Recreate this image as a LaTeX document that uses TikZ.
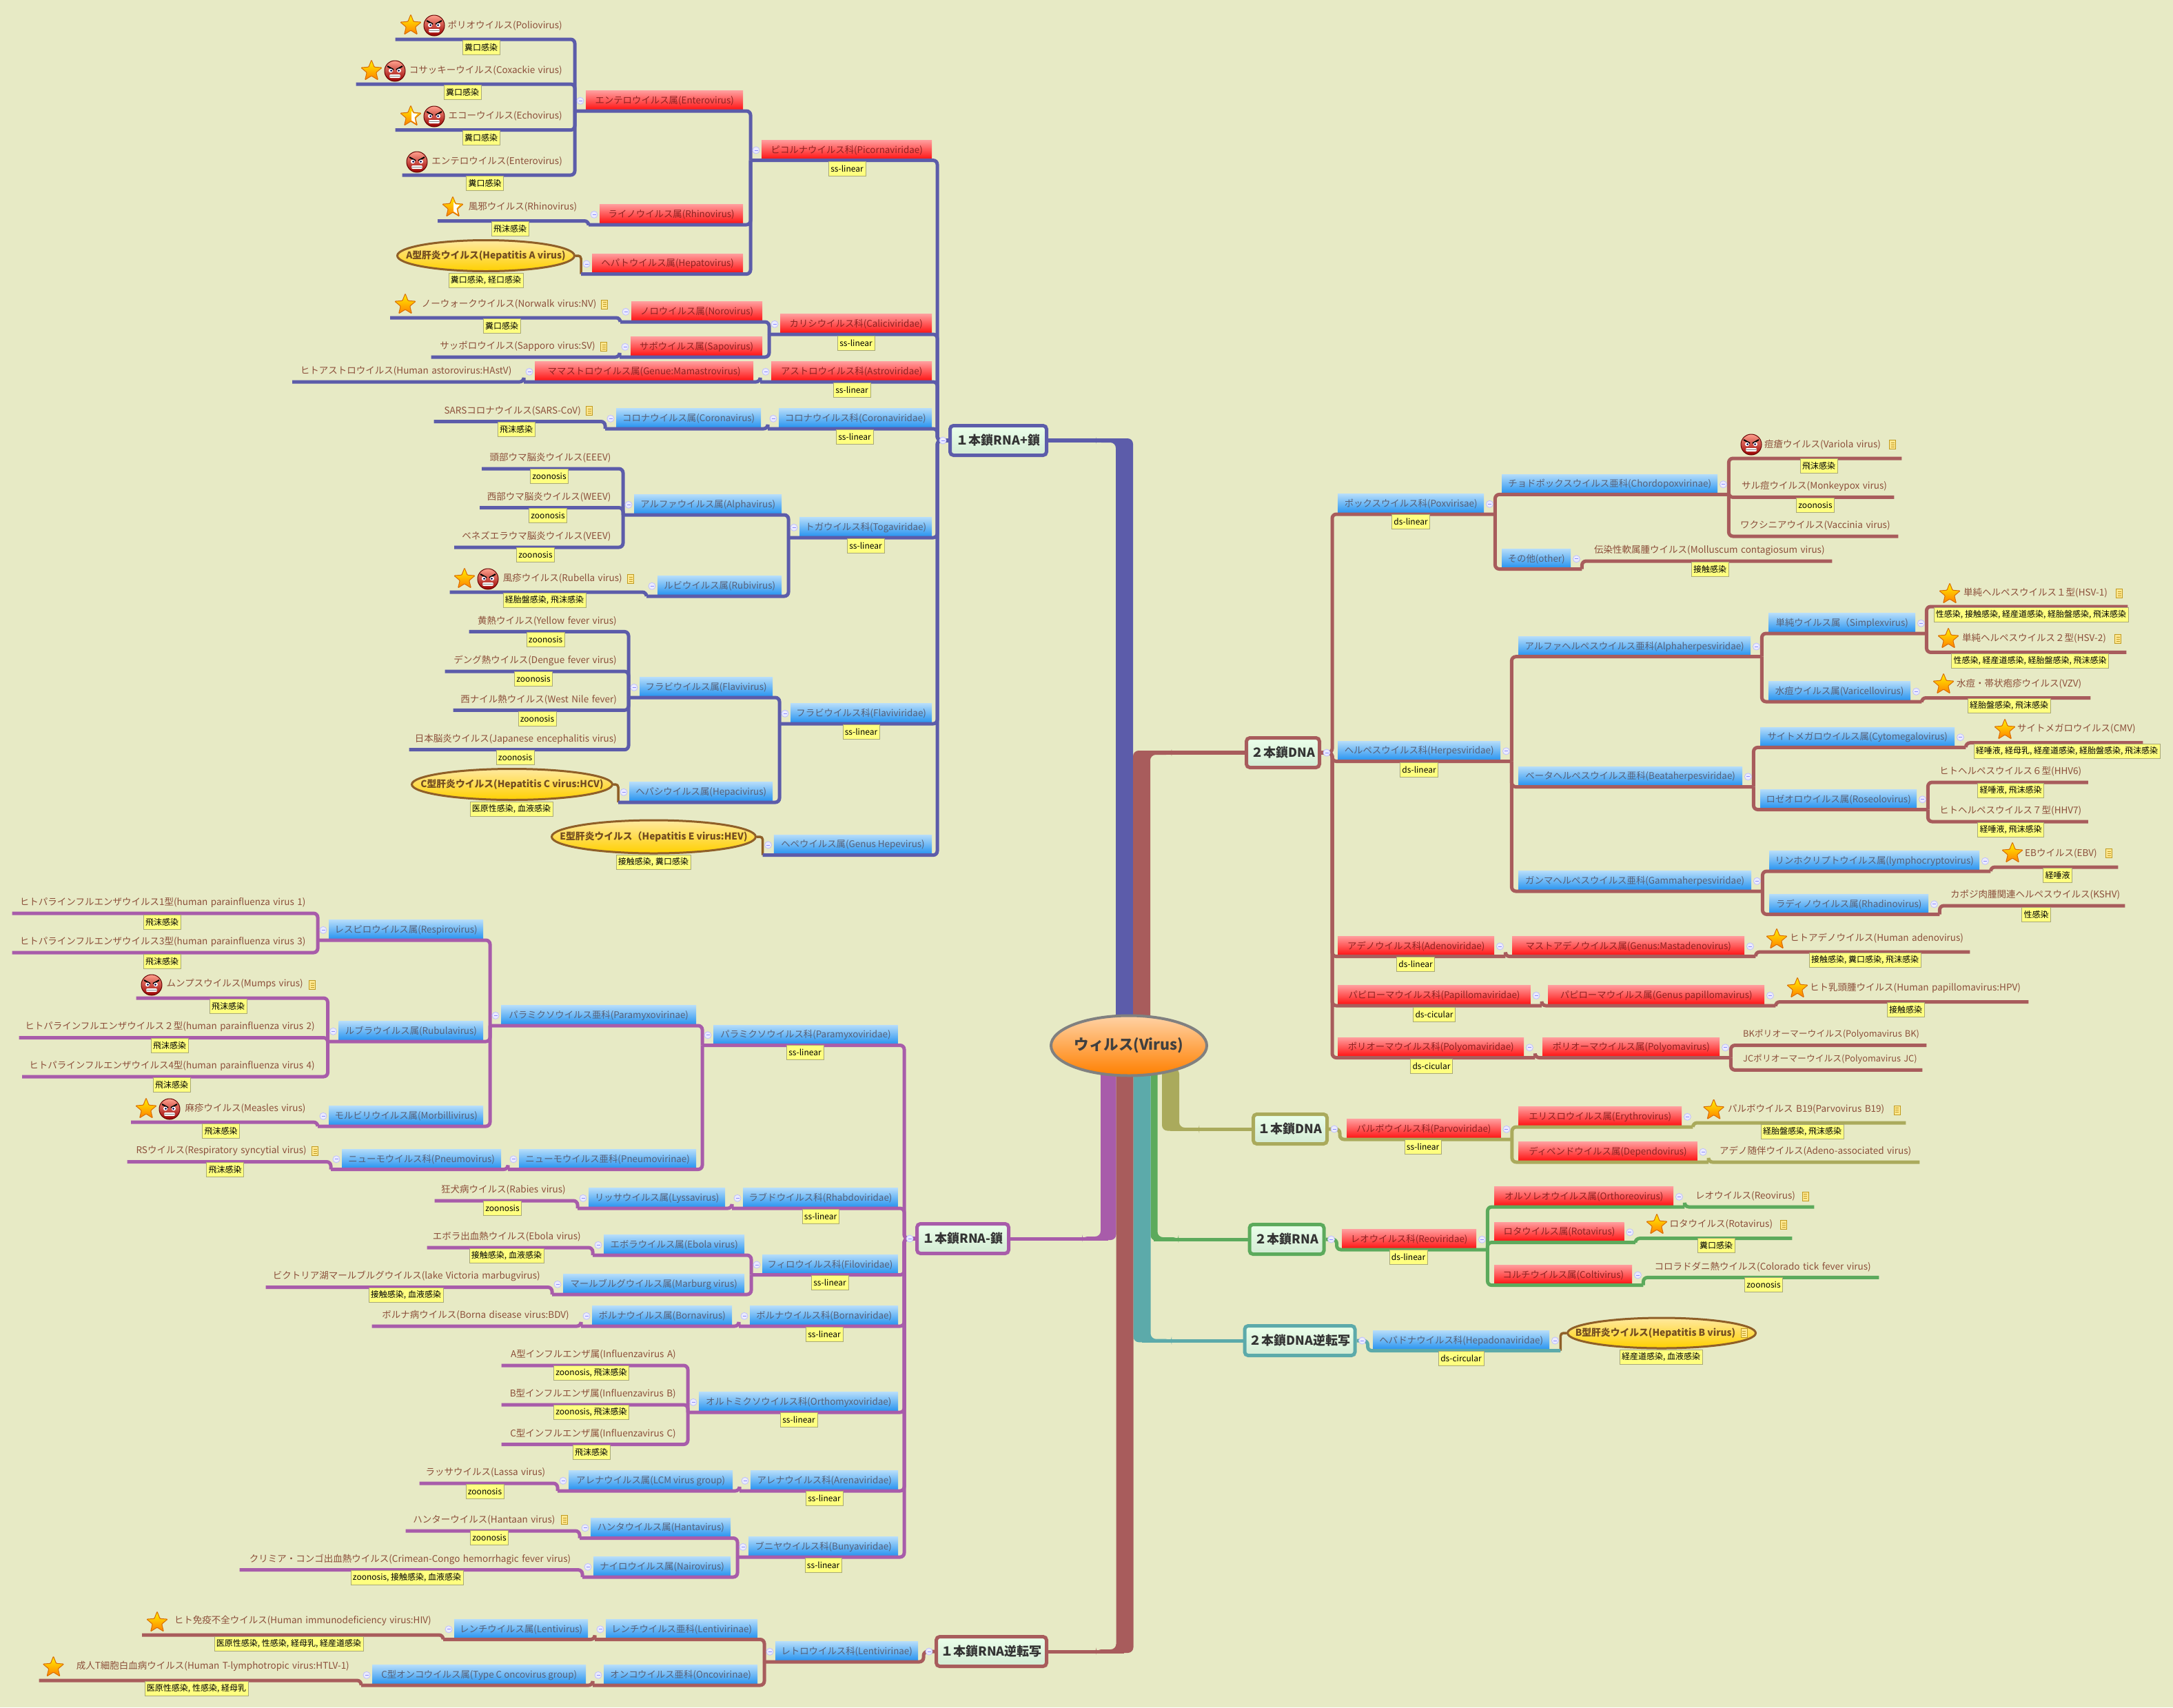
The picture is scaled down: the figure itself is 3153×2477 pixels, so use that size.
\documentclass[tikz,border=0pt]{standalone}
\usepackage{fontspec}
\setmainfont{Noto Sans CJK JP}
\usetikzlibrary{shapes.geometric}

\definecolor{mapback}{HTML}{E7EAC5}
\definecolor{linkblue}{HTML}{5C5CAA}
\definecolor{linkbrown}{HTML}{A85C5C}
\definecolor{linkpurple}{HTML}{A85CAA}
\definecolor{linkgreen}{HTML}{5CAA5C}
\definecolor{linkteal}{HTML}{5CAAAA}
\definecolor{linkolive}{HTML}{AAAA5C}
\definecolor{leaftext}{HTML}{8C4F3A}
\definecolor{redtop}{HTML}{FF9C9C}
\definecolor{redlow}{HTML}{FF0C0C}
\definecolor{redtext}{HTML}{8E2222}
\definecolor{bluetop}{HTML}{B4DCFA}
\definecolor{bluelow}{HTML}{2090F0}
\definecolor{bluetext}{HTML}{566078}
\definecolor{ovaledge}{HTML}{8F5F28}
\definecolor{ovaltop}{HTML}{FFE9A0}
\definecolor{ovallow}{HTML}{FFD000}
\definecolor{notefill}{HTML}{FFFF80}
\definecolor{noteedge}{HTML}{A8A878}
\definecolor{docedge}{HTML}{C09A20}
\definecolor{docfill}{HTML}{FFE890}

\tikzset{
  leaf/.style={anchor=south east,align=right,inner sep=0pt,minimum height=31pt,text=leaftext,font=\fontsize{13.5pt}{15pt}\selectfont},
  iconleaf/.style={leaf,minimum height=40pt},
  leafR/.style={leaf,anchor=south west,align=left},
  iconleafR/.style={leafR,minimum height=40pt},
  box/.style={anchor=south west,inner sep=0pt,minimum height=29pt,font=\fontsize{13.4pt}{15pt}\selectfont},
  redbox/.style={box,top color=redtop,bottom color=redlow,text=redtext},
  bluebox/.style={box,top color=bluetop,bottom color=bluelow,text=bluetext},
  mainbox/.style={rectangle,rounded corners=5pt,line width=5pt,inner sep=0pt,minimum height=43pt,top color=white!92!green,bottom color=green!10!white!92!black,text=black!80,font=\fontsize{18pt}{20pt}\selectfont\bfseries},
  oval/.style={ellipse,draw=ovaledge,line width=3pt,inner sep=0pt,top color=ovaltop,bottom color=ovallow,text=ovaledge!80!black,font=\fontsize{13.8pt}{15pt}\selectfont\bfseries},
  note/.style={draw=noteedge,fill=notefill,text=black,inner xsep=3pt,inner ysep=0pt,minimum height=21pt,font=\fontsize{12pt}{14pt}\selectfont},
  lefttree/.style={to path={([xshift=-16pt]\tikztostart.south west) -| ([xshift=-16pt]\tikztotarget.south west)}},
  leftleaf/.style={to path={(\tikztostart.south west) -| ([xshift=-16pt]\tikztotarget.south west)}},
  leftroot/.style={to path={([xshift=-16pt]\tikztostart.south west) -| ([xshift=-16pt]\tikztotarget.west) -- (\tikztotarget.west)}},
  leftoval/.style={to path={(\tikztostart.east) -| ([xshift=-16pt]\tikztotarget.south west)}},
  righttree/.style={to path={([xshift=16pt]\tikztostart.south east) -| ([xshift=16pt]\tikztotarget.south east)}},
  rightleaf/.style={to path={(\tikztostart.south east) -| ([xshift=16pt]\tikztotarget.south east)}},
  rightroot/.style={to path={([xshift=16pt]\tikztostart.south east) -| ([xshift=16pt]\tikztotarget.east) -- (\tikztotarget.east)}},
  rightoval/.style={to path={(\tikztostart.west) -| ([xshift=16pt]\tikztotarget.south east)}},
  bluelink/.style={draw=linkblue,line width=5pt,rounded corners=6pt},
  brownlink/.style={draw=linkbrown,line width=5pt,rounded corners=6pt},
  purplelink/.style={draw=linkpurple,line width=5pt,rounded corners=6pt},
  greenlink/.style={draw=linkgreen,line width=5pt,rounded corners=6pt},
  teallink/.style={draw=linkteal,line width=5pt,rounded corners=6pt},
  olivelink/.style={draw=linkolive,line width=5pt,rounded corners=6pt},
  ovallink/.style={draw=ovaledge,line width=3.5pt,rounded corners=4pt},
  staricon/.pic={
    \draw[draw=orange!85!black,line width=1pt,rounded corners=1pt,top color=yellow!90!orange,bottom color=orange]
      (0,-16) -- (4.1,-5.7) -- (15.2,-4.9) -- (6.7,2.2) -- (9.4,12.9) -- (0,7) -- (-9.4,12.9) -- (-6.7,2.2) -- (-15.2,-4.9) -- (-4.1,-5.7) -- cycle;
  },
  halfstaricon/.pic={
    \pic {staricon};
    \fill[white] (1,-8) -- (4,-4.5) -- (10,-4) -- (5.5,1.5) -- (7,9.5) -- (1,5.5) -- cycle;
  },
  oniicon/.pic={
    \draw[draw=red!40!black,line width=1pt,top color=red!35!white!85!orange,bottom color=red!60!black] (0,0) circle (15pt);
    \draw[black,line width=2pt] (-11,-7) -- (-2,-2);
    \draw[black,line width=2pt] (11,-7) -- (2,-2);
    \fill[white] (-6,-0.5) circle (3pt);
    \fill[white] (6,-0.5) circle (3pt);
    \fill[black!70!blue] (-5.5,-0.5) circle (1.5pt);
    \fill[black!70!blue] (5.5,-0.5) circle (1.5pt);
    \fill[white,rounded corners=2pt] (-8,5) rectangle (8,10);
    \draw[gray,line width=0.5pt] (-8,7.5) -- (8,7.5);
  },
  docicon/.pic={
    \draw[draw=docedge,line width=1pt,fill=docfill] (-4.5,-6.5) rectangle (4.5,6.5);
    \draw[docedge,line width=0.8pt] (-2.5,-3) -- (2.5,-3);
    \draw[docedge,line width=0.8pt] (-2.5,0) -- (2.5,0);
    \draw[docedge,line width=0.8pt] (-2.5,3) -- (2.5,3);
  },
  foldmark/.pic={
    \draw[draw=blue!25!white,line width=0.8pt,fill=blue!8!white] (0,0) circle (5pt);
    \draw[blue!45!white,line width=0.8pt] (-2.5,0) -- (2.5,0);
  }
}

\begin{document}
\begin{tikzpicture}[x=1pt,y=-1pt]
\useasboundingbox (0,0) rectangle (3153,2477);
\fill[mapback] (0,0) rectangle (3153,2477);

\fill[linkblue,rounded corners=8pt] (1619,1500) -- (1619,642) -- (1590,642) -- (1590,636) -- (1644,636) -- (1644,1500) -- cycle;
\fill[linkbrown,rounded corners=8pt] (1669,1500) -- (1669,1095) -- (1700,1095) -- (1700,1089) -- (1644,1089) -- (1644,1500) -- cycle;
\fill[linkpurple,rounded corners=8pt] (1597,1540) -- (1597,1794) -- (1570,1794) -- (1570,1799) -- (1619.5,1799) -- (1619.5,1540) -- cycle;
\fill[linkbrown,rounded corners=8pt] (1619.5,1540) -- (1619.5,2393) -- (1590,2393) -- (1590,2398) -- (1644.5,2398) -- (1644.5,1540) -- cycle;
\fill[linkgreen,rounded corners=8pt] (1679.5,1540) -- (1679.5,1795) -- (1710,1795) -- (1710,1800) -- (1669.5,1800) -- (1669.5,1540) -- cycle;
\fill[linkteal,rounded corners=8pt] (1669.5,1540) -- (1669.5,1942.7) -- (1700,1942.7) -- (1700,1947.3) -- (1644.5,1947.3) -- (1644.5,1540) -- cycle;
\fill[linkolive,rounded corners=8pt] (1711,1550) -- (1711,1636) -- (1740,1636) -- (1740,1640.5) -- (1686,1640.5) -- (1686,1550) -- cycle;

\node[ellipse,draw=black!50,line width=4pt,inner sep=0pt,minimum width=226pt,minimum height=87pt,top color=orange!35!white,bottom color=orange,text=black!75,font=\fontsize{21.5pt}{24pt}\selectfont\bfseries] (virus) at (1638,1517) {\makebox[0pt]{ウィルス(Virus)}};

\node[mainbox,draw=linkblue,minimum width=140pt] (rnaplus) at (1448.5,639) {１本鎖RNA+鎖};
\node[mainbox,draw=linkpurple,minimum width=133pt] (rnaminus) at (1397,1797) {１本鎖RNA-鎖};
\node[mainbox,draw=linkbrown,minimum width=160pt] (rnaretro) at (1438.5,2396) {１本鎖RNA逆転写};
\node[mainbox,draw=linkbrown,minimum width=106pt] (dnadouble) at (1861.5,1092) {２本鎖DNA};
\node[mainbox,draw=linkolive,minimum width=107pt] (dnasingle) at (1872,1638) {１本鎖DNA};
\node[mainbox,draw=linkgreen,minimum width=108pt] (rnadouble) at (1867,1798) {２本鎖RNA};
\node[mainbox,draw=linkteal,minimum width=160pt] (dnaretro) at (1886,1945) {２本鎖DNA逆転写};

\coordinate (bluebend) at (1631,639);
\coordinate (purplebend) at (1608,1797);
\coordinate (retrobend) at (1631,2396);
\coordinate (dnabend) at (1656,1092);
\coordinate (olivebend) at (1698,1638);
\coordinate (greenbend) at (1674,1798);
\coordinate (tealbend) at (1657,1945);
\draw[linkblue,line width=6pt] (rnaplus.east) -- (bluebend);
\draw[linkpurple,line width=5pt] (rnaminus.east) -- (purplebend);
\draw[linkbrown,line width=5pt] (rnaretro.east) -- (retrobend);
\draw[linkbrown,line width=6pt] (dnadouble.west) -- (dnabend);
\draw[linkolive,line width=5pt] (dnasingle.west) -- (olivebend);
\draw[linkgreen,line width=5pt] (rnadouble.west) -- (greenbend);
\draw[linkteal,line width=5pt] (dnaretro.west) -- (tealbend);

\node[redbox,minimum width=247pt] (picorna) at (1105,232.6) {ピコルナウイルス科(Picornaviridae)};
\node[redbox,minimum width=228pt] (enterovirus) at (850,161) {エンテロウイルス属(Enterovirus)};
\node[redbox,minimum width=208pt] (rhinovirus) at (870,326) {ライノウイルス属(Rhinovirus)};
\node[redbox,minimum width=219pt] (hepatovirus) at (859,397.6) {ヘパトウイルス属(Hepatovirus)};
\node[redbox,minimum width=220pt] (calici) at (1132,485) {カリシウイルス科(Caliciviridae)};
\node[redbox,minimum width=190pt] (norovirus) at (916,467) {ノロウイルス属(Norovirus)};
\node[redbox,minimum width=191pt] (sapovirus) at (915,518) {サポウイルス属(Sapovirus)};
\node[redbox,minimum width=233pt] (astro) at (1119,554) {アストロウイルス科(Astroviridae)};
\node[redbox,minimum width=317pt] (mamastro) at (776,554) {ママストロウイルス属(Genue:Mamastrovirus)};
\node[bluebox,minimum width=222pt] (coronaviridae) at (1130,622) {コロナウイルス科(Coronaviridae)};
\node[bluebox,minimum width=210pt] (coronavirus) at (894,622) {コロナウイルス属(Coronavirus)};
\node[bluebox,minimum width=192pt] (toga) at (1160,780) {トガウイルス科(Togaviridae)};
\node[bluebox,minimum width=214pt] (alphavirus) at (920,747) {アルファウイルス属(Alphavirus)};
\node[bluebox,minimum width=180pt] (rubivirus) at (954,865) {ルビウイルス属(Rubivirus)};
\node[bluebox,minimum width=205pt] (flaviviridae) at (1147,1050) {フラビウイルス科(Flaviviridae)};
\node[bluebox,minimum width=193pt] (flavivirus) at (928,1012) {フラビウイルス属(Flavivirus)};
\node[bluebox,minimum width=208pt] (hepacivirus) at (913,1164) {ヘパシウイルス属(Hepacivirus)};
\node[bluebox,minimum width=229.4pt] (hepevirus) at (1122.6,1240.6) {ヘペウイルス属(Genus Hepevirus)};

\node[iconleaf,text width=242pt] (polio) at (816,57) {ポリオウイルス(Poliovirus)};
\node[iconleaf,text width=299pt] (coxackie) at (816,122) {コサッキーウイルス(Coxackie virus)};
\node[iconleaf,text width=242pt] (echo) at (816,188.6) {エコーウイルス(Echovirus)};
\node[iconleaf,text width=232pt] (enteroleaf) at (816,254) {エンテロウイルス(Enterovirus)};
\node[iconleaf,text width=202pt] (rhinoleaf) at (837.5,320.5) {風邪ウイルス(Rhinovirus)};
\node[oval,minimum width=257pt,minimum height=45pt] (hepA) at (705,371) {\makebox[0pt]{A型肝炎ウイルス(Hepatitis A virus)}};
\node[iconleaf,text width=299pt] (norwalk) at (865.6,461) {ノーウォークウイルス(Norwalk virus:NV)};
\node[leaf,text width=238pt] (sapporo) at (864,518) {サッポロウイルス(Sapporo virus:SV)};
\node[leaf,text width=318pt] (hastv) at (742.5,554) {ヒトアストロウイルス(Human astorovirus:HAstV)};
\node[leaf,text width=213pt] (sars) at (843,611.5) {SARSコロナウイルス(SARS-CoV)};
\node[leaf,text width=187pt] (eeev) at (886.6,680) {頭部ウマ脳炎ウイルス(EEEV)};
\node[leaf,text width=190pt] (weev) at (886.6,736.5) {西部ウマ脳炎ウイルス(WEEV)};
\node[leaf,text width=227pt] (veev) at (886.6,794) {ベネズエラウマ脳炎ウイルス(VEEV)};
\node[iconleaf,text width=250pt] (rubella) at (903,859) {風疹ウイルス(Rubella virus)};
\node[leaf,text width=214pt] (yellowfever) at (895,916.4) {黄熱ウイルス(Yellow fever virus)};
\node[leaf,text width=249pt] (dengue) at (895,974) {デング熱ウイルス(Dengue fever virus)};
\node[leaf,text width=237pt] (westnile) at (895,1030.4) {西ナイル熱ウイルス(West Nile fever)};
\node[leaf,text width=301pt] (japanese) at (895,1087.7) {日本脳炎ウイルス(Japanese encephalitis virus)};
\node[oval,minimum width=291pt,minimum height=45pt] (hepC) at (743,1138) {\makebox[0pt]{C型肝炎ウイルス(Hepatitis C virus:HCV)}};
\node[oval,minimum width=296pt,minimum height=48pt] (hepE) at (948.5,1214) {\makebox[0pt]{E型肝炎ウイルス（Hepatitis E virus:HEV)}};

\path[bluelink,leftleaf] (polio) edge (enterovirus);
\path[bluelink,leftleaf] (coxackie) edge (enterovirus);
\path[bluelink,leftleaf] (echo) edge (enterovirus);
\path[bluelink,leftleaf] (enteroleaf) edge (enterovirus);
\path[bluelink,leftleaf] (rhinoleaf) edge (rhinovirus);
\path[ovallink,leftoval] (hepA) edge (hepatovirus);
\path[bluelink,lefttree] (enterovirus) edge (picorna);
\path[bluelink,lefttree] (rhinovirus) edge (picorna);
\path[bluelink,lefttree] (hepatovirus) edge (picorna);
\path[bluelink,leftleaf] (norwalk) edge (norovirus);
\path[bluelink,leftleaf] (sapporo) edge (sapovirus);
\path[bluelink,lefttree] (norovirus) edge (calici);
\path[bluelink,lefttree] (sapovirus) edge (calici);
\path[bluelink,leftleaf] (hastv) edge (mamastro);
\path[bluelink,lefttree] (mamastro) edge (astro);
\path[bluelink,leftleaf] (sars) edge (coronavirus);
\path[bluelink,lefttree] (coronavirus) edge (coronaviridae);
\path[bluelink,leftleaf] (eeev) edge (alphavirus);
\path[bluelink,leftleaf] (weev) edge (alphavirus);
\path[bluelink,leftleaf] (veev) edge (alphavirus);
\path[bluelink,leftleaf] (rubella) edge (rubivirus);
\path[bluelink,lefttree] (alphavirus) edge (toga);
\path[bluelink,lefttree] (rubivirus) edge (toga);
\path[bluelink,leftleaf] (yellowfever) edge (flavivirus);
\path[bluelink,leftleaf] (dengue) edge (flavivirus);
\path[bluelink,leftleaf] (westnile) edge (flavivirus);
\path[bluelink,leftleaf] (japanese) edge (flavivirus);
\path[ovallink,leftoval] (hepC) edge (hepacivirus);
\path[bluelink,lefttree] (flavivirus) edge (flaviviridae);
\path[bluelink,lefttree] (hepacivirus) edge (flaviviridae);
\path[ovallink,leftoval] (hepE) edge (hepevirus);
\path[bluelink,leftroot] (picorna) edge (rnaplus);
\path[bluelink,leftroot] (calici) edge (rnaplus);
\path[bluelink,leftroot] (astro) edge (rnaplus);
\path[bluelink,leftroot] (coronaviridae) edge (rnaplus);
\path[bluelink,leftroot] (toga) edge (rnaplus);
\path[bluelink,leftroot] (flaviviridae) edge (rnaplus);
\path[bluelink,leftroot] (hepevirus) edge (rnaplus);

\node[bluebox,minimum width=267.6pt] (paramyxoviridae) at (1035,1516.5) {パラミクソウイルス科(Paramyxoviridae)};
\node[bluebox,minimum width=283pt] (paramyxovirinae) at (727,1488) {パラミクソウイルス亜科(Paramyxovirinae)};
\node[bluebox,minimum width=257pt] (pneumovirinae) at (753,1696.5) {ニューモウイルス亜科(Pneumovirinae)};
\node[bluebox,minimum width=231pt] (pneumovirus) at (496,1696.5) {ニューモウイルス科(Pneumovirus)};
\node[bluebox,minimum width=224pt] (respirovirus) at (477,1364) {レスピロウイルス属(Respirovirus)};
\node[bluebox,minimum width=209.5pt] (rubulavirus) at (491.5,1511) {ルブラウイルス属(Rubulavirus)};
\node[bluebox,minimum width=224pt] (morbillivirus) at (477,1634) {モルビリウイルス属(Morbillivirus)};
\node[bluebox,minimum width=224.6pt] (rhabdoviridae) at (1078,1753) {ラブドウイルス科(Rhabdoviridae)};
\node[bluebox,minimum width=198pt] (lyssavirus) at (854,1753) {リッサウイルス属(Lyssavirus)};
\node[bluebox,minimum width=196.6pt] (filoviridae) at (1106,1849.6) {フィロウイルス科(Filoviridae)};
\node[bluebox,minimum width=204pt] (ebolavirus) at (876,1821) {エボラウイルス属(Ebola virus)};
\node[bluebox,minimum width=263pt] (marburgvirus) at (817,1878) {マールブルグウイルス属(Marburg virus)};
\node[bluebox,minimum width=215pt] (bornaviridae) at (1088,1924) {ボルナウイルス科(Bornaviridae)};
\node[bluebox,minimum width=203pt] (bornavirus) at (859,1924) {ボルナウイルス属(Bornavirus)};
\node[bluebox,minimum width=289pt] (orthomyxo) at (1014,2049) {オルトミクソウイルス科(Orthomyxoviridae)};
\node[bluebox,minimum width=214pt] (arenaviridae) at (1089,2163) {アレナウイルス科(Arenaviridae)};
\node[bluebox,minimum width=238pt] (lcmgroup) at (825,2163) {アレナウイルス属(LCM virus group)};
\node[bluebox,minimum width=217pt] (bunyaviridae) at (1086,2259) {ブニヤウイルス科(Bunyaviridae)};
\node[bluebox,minimum width=203pt] (hantavirus) at (857,2231.5) {ハンタウイルス属(Hantavirus)};
\node[bluebox,minimum width=199pt] (nairovirus) at (861,2288) {ナイロウイルス属(Nairovirus)};

\node[leaf,text width=425.6pt] (hpivone) at (443.6,1325) {ヒトパラインフルエンザウイルス1型(human parainfluenza virus 1)};
\node[leaf,text width=425.6pt] (hpivthree) at (443.6,1382) {ヒトパラインフルエンザウイルス3型(human parainfluenza virus 3)};
\node[iconleaf,text width=242pt] (mumps) at (440,1448) {ムンプスウイルス(Mumps virus)};
\node[leaf,text width=429pt] (hpivtwo) at (457,1505.5) {ヒトパラインフルエンザウイルス２型(human parainfluenza virus 2)};
\node[leaf,text width=424.5pt] (hpivfour) at (457,1562) {ヒトパラインフルエンザウイルス4型(human parainfluenza virus 4)};
\node[iconleaf,text width=253pt] (measles) at (443.6,1628) {麻疹ウイルス(Measles virus)};
\node[leaf,text width=260pt] (rsvirus) at (445,1685.5) {RSウイルス(Respiratory syncytial virus)};
\node[leaf,text width=190pt] (rabies) at (821,1742) {狂犬病ウイルス(Rabies virus)};
\node[leaf,text width=223pt] (ebolaleaf) at (843,1810) {エボラ出血熱ウイルス(Ebola virus)};
\node[leaf,text width=398pt] (marburgleaf) at (784,1867.5) {ビクトリア湖マールブルグウイルス(lake Victoria marbugvirus)};
\node[leaf,text width=286pt] (bdv) at (826,1924) {ボルナ病ウイルス(Borna disease virus:BDV)};
\node[leaf,text width=253pt] (infa) at (981,1981) {A型インフルエンザ属(Influenzavirus A)};
\node[leaf,text width=253pt] (infb) at (981,2038) {B型インフルエンザ属(Influenzavirus B)};
\node[leaf,text width=253pt] (infc) at (981,2095.5) {C型インフルエンザ属(Influenzavirus C)};
\node[leaf,text width=182.5pt] (lassa) at (791.5,2152) {ラッサウイルス(Lassa virus)};
\node[leaf,text width=216.6pt] (hantaan) at (805.6,2221) {ハンターウイルス(Hantaan virus)};
\node[leaf,text width=480.5pt] (crimean) at (828.5,2277.6) {クリミア・コンゴ出血熱ウイルス(Crimean-Congo hemorrhagic fever virus)};

\path[purplelink,leftleaf] (hpivone) edge (respirovirus);
\path[purplelink,leftleaf] (hpivthree) edge (respirovirus);
\path[purplelink,leftleaf] (mumps) edge (rubulavirus);
\path[purplelink,leftleaf] (hpivtwo) edge (rubulavirus);
\path[purplelink,leftleaf] (hpivfour) edge (rubulavirus);
\path[purplelink,leftleaf] (measles) edge (morbillivirus);
\path[purplelink,lefttree] (respirovirus) edge (paramyxovirinae);
\path[purplelink,lefttree] (rubulavirus) edge (paramyxovirinae);
\path[purplelink,lefttree] (morbillivirus) edge (paramyxovirinae);
\path[purplelink,leftleaf] (rsvirus) edge (pneumovirus);
\path[purplelink,lefttree] (pneumovirus) edge (pneumovirinae);
\path[purplelink,lefttree] (paramyxovirinae) edge (paramyxoviridae);
\path[purplelink,lefttree] (pneumovirinae) edge (paramyxoviridae);
\path[purplelink,leftleaf] (rabies) edge (lyssavirus);
\path[purplelink,lefttree] (lyssavirus) edge (rhabdoviridae);
\path[purplelink,leftleaf] (ebolaleaf) edge (ebolavirus);
\path[purplelink,leftleaf] (marburgleaf) edge (marburgvirus);
\path[purplelink,lefttree] (ebolavirus) edge (filoviridae);
\path[purplelink,lefttree] (marburgvirus) edge (filoviridae);
\path[purplelink,leftleaf] (bdv) edge (bornavirus);
\path[purplelink,lefttree] (bornavirus) edge (bornaviridae);
\path[purplelink,leftleaf] (infa) edge (orthomyxo);
\path[purplelink,leftleaf] (infb) edge (orthomyxo);
\path[purplelink,leftleaf] (infc) edge (orthomyxo);
\path[purplelink,leftleaf] (lassa) edge (lcmgroup);
\path[purplelink,lefttree] (lcmgroup) edge (arenaviridae);
\path[purplelink,leftleaf] (hantaan) edge (hantavirus);
\path[purplelink,leftleaf] (crimean) edge (nairovirus);
\path[purplelink,lefttree] (hantavirus) edge (bunyaviridae);
\path[purplelink,lefttree] (nairovirus) edge (bunyaviridae);
\path[purplelink,leftroot] (paramyxoviridae) edge (rnaminus);
\path[purplelink,leftroot] (rhabdoviridae) edge (rnaminus);
\path[purplelink,leftroot] (filoviridae) edge (rnaminus);
\path[purplelink,leftroot] (bornaviridae) edge (rnaminus);
\path[purplelink,leftroot] (orthomyxo) edge (rnaminus);
\path[purplelink,leftroot] (arenaviridae) edge (rnaminus);
\path[purplelink,leftroot] (bunyaviridae) edge (rnaminus);

\node[bluebox,minimum width=207pt] (retroviridae) at (1125,2411) {レトロウイルス科(Lentivirinae)};
\node[bluebox,minimum width=220pt] (lentivirinae) at (879,2378.5) {レンチウイルス亜科(Lentivirinae)};
\node[bluebox,minimum width=194pt] (lentivirus) at (659,2378.5) {レンチウイルス属(Lentivirus)};
\node[bluebox,minimum width=223pt] (oncovirinae) at (876,2445) {オンコウイルス亜科(Oncovirinae)};
\node[bluebox,minimum width=310pt] (typec) at (540,2445) {C型オンコウイルス属(Type C oncovirus group)};
\node[iconleaf,text width=419.4pt] (hiv) at (626,2372) {ヒト免疫不全ウイルス(Human immunodeficiency virus:HIV)};
\node[iconleaf,text width=450pt] (htlv) at (507,2438) {成人T細胞白血病ウイルス(Human T-lymphotropic virus:HTLV-1)};

\path[brownlink,leftleaf] (hiv) edge (lentivirus);
\path[brownlink,lefttree] (lentivirus) edge (lentivirinae);
\path[brownlink,leftleaf] (htlv) edge (typec);
\path[brownlink,lefttree] (typec) edge (oncovirinae);
\path[brownlink,lefttree] (lentivirinae) edge (retroviridae);
\path[brownlink,lefttree] (oncovirinae) edge (retroviridae);
\path[brownlink,leftroot] (retroviridae) edge (rnaretro);

\node[bluebox,minimum width=212pt] (poxviridae) at (1941,746) {ポックスウイルス科(Poxvirisae)};
\node[bluebox,minimum width=313pt] (chordopox) at (2179,717.4) {チョドポックスウイルス亜科(Chordopoxvirinae)};
\node[bluebox,minimum width=100pt] (otherpox) at (2179,825.5) {その他(other)};
\node[bluebox,minimum width=236pt] (herpesviridae) at (1941,1104.5) {ヘルペスウイルス科(Herpesviridae)};
\node[bluebox,minimum width=337pt] (alphaherpes) at (2203,952.7) {アルファヘルペスウイルス亜科(Alphaherpesviridae)};
\node[bluebox,minimum width=325pt] (betaherpes) at (2203,1141.5) {ベータヘルペスウイルス亜科(Beataherpesviridae)};
\node[bluebox,minimum width=338pt] (gammaherpes) at (2203,1293) {ガンマヘルペスウイルス亜科(Gammaherpesviridae)};
\node[bluebox,minimum width=213pt] (simplexvirus) at (2566,919) {単純ウイルス属（Simplexvirus)};
\node[bluebox,minimum width=206pt] (varicellovirus) at (2566,1018) {水痘ウイルス属(Varicellovirus)};
\node[bluebox,minimum width=282pt] (cytomegalovirus) at (2554,1084.4) {サイトメガロウイルス属(Cytomegalovirus)};
\node[bluebox,minimum width=227pt] (roseolovirus) at (2554,1174.5) {ロゼオロウイルス属(Roseolovirus)};
\node[bluebox,minimum width=305pt] (lymphocrypto) at (2567,1264) {リンホクリプトウイルス属(lymphocryptovirus)};
\node[bluebox,minimum width=231pt] (rhadinovirus) at (2567,1326.5) {ラディノウイルス属(Rhadinovirus)};
\node[redbox,minimum width=227pt] (adenoviridae) at (1941,1387.6) {アデノウイルス科(Adenoviridae)};
\node[redbox,minimum width=337pt] (mastadenovirus) at (2194,1387.6) {マストアデノウイルス属(Genus:Mastadenovirus)};
\node[redbox,minimum width=279.6pt] (papillomaviridae) at (1941,1459) {パピローマウイルス科(Papillomaviridae)};
\node[redbox,minimum width=314pt] (papillomavirus) at (2246,1459) {パピローマウイルス属(Genus papillomavirus)};
\node[redbox,minimum width=270pt] (polyomaviridae) at (1941,1534.5) {ポリオーマウイルス科(Polyomaviridae)};
\node[redbox,minimum width=257pt] (polyomavirus) at (2238,1534.5) {ポリオーマウイルス属(Polyomavirus)};

\node[iconleafR,text width=199pt] (variola) at (2560,665) {痘瘡ウイルス(Variola virus)};
\node[leafR,text width=221pt] (monkeypox) at (2527,721.4) {サル痘ウイルス(Monkeypox virus)};
\node[leafR,text width=229pt] (vaccinia) at (2525,778) {ワクシニアウイルス(Vaccinia virus)};
\node[leafR,text width=345pt] (molluscum) at (2313,814) {伝染性軟属腫ウイルス(Molluscum contagiosum virus)};
\node[iconleafR,text width=238pt] (hsvone) at (2849,880) {単純ヘルペスウイルス１型(HSV-1)};
\node[iconleafR,text width=238pt] (hsvtwo) at (2847,946.4) {単純ヘルペスウイルス２型(HSV-2)};
\node[iconleafR,text width=194pt] (vzv) at (2839,1012.5) {水痘・帯状疱疹ウイルス(VZV)};
\node[iconleafR,text width=182pt] (cmv) at (2927,1077.7) {サイトメガロウイルス(CMV)};
\node[leafR,text width=215.5pt] (hhvsix) at (2814,1135) {ヒトヘルペスウイルス６型(HHV6)};
\node[leafR,text width=215.5pt] (hhvseven) at (2814,1192) {ヒトヘルペスウイルス７型(HHV7)};
\node[iconleafR,text width=135pt] (ebv) at (2938,1258) {EBウイルス(EBV)};
\node[leafR,text width=253pt] (kshv) at (2830,1314) {カポジ肉腫関連ヘルペスウイルス(KSHV)};
\node[iconleafR,text width=261pt] (hadeno) at (2597,1381) {ヒトアデノウイルス(Human adenovirus)};
\node[iconleafR,text width=317pt] (hpv) at (2626,1453.5) {ヒト乳頭腫ウイルス(Human papillomavirus:HPV)};
\node[leafR,text width=266pt,font=\fontsize{12.8pt}{15pt}\selectfont] (bkvirus) at (2529,1516.5) {\mbox{BKポリオーマーウイルス(Polyomavirus BK)}};
\node[leafR,text width=260pt,font=\fontsize{12.8pt}{15pt}\selectfont] (jcvirus) at (2529,1552.4) {\mbox{JCポリオーマーウイルス(Polyomavirus JC)}};

\path[brownlink,rightleaf] (variola) edge (chordopox);
\path[brownlink,rightleaf] (monkeypox) edge (chordopox);
\path[brownlink,rightleaf] (vaccinia) edge (chordopox);
\path[brownlink,rightleaf] (molluscum) edge (otherpox);
\path[brownlink,righttree] (chordopox) edge (poxviridae);
\path[brownlink,righttree] (otherpox) edge (poxviridae);
\path[brownlink,rightleaf] (hsvone) edge (simplexvirus);
\path[brownlink,rightleaf] (hsvtwo) edge (simplexvirus);
\path[brownlink,rightleaf] (vzv) edge (varicellovirus);
\path[brownlink,righttree] (simplexvirus) edge (alphaherpes);
\path[brownlink,righttree] (varicellovirus) edge (alphaherpes);
\path[brownlink,rightleaf] (cmv) edge (cytomegalovirus);
\path[brownlink,rightleaf] (hhvsix) edge (roseolovirus);
\path[brownlink,rightleaf] (hhvseven) edge (roseolovirus);
\path[brownlink,righttree] (cytomegalovirus) edge (betaherpes);
\path[brownlink,righttree] (roseolovirus) edge (betaherpes);
\path[brownlink,rightleaf] (ebv) edge (lymphocrypto);
\path[brownlink,rightleaf] (kshv) edge (rhadinovirus);
\path[brownlink,righttree] (lymphocrypto) edge (gammaherpes);
\path[brownlink,righttree] (rhadinovirus) edge (gammaherpes);
\path[brownlink,righttree] (alphaherpes) edge (herpesviridae);
\path[brownlink,righttree] (betaherpes) edge (herpesviridae);
\path[brownlink,righttree] (gammaherpes) edge (herpesviridae);
\path[brownlink,rightleaf] (hadeno) edge (mastadenovirus);
\path[brownlink,righttree] (mastadenovirus) edge (adenoviridae);
\path[brownlink,rightleaf] (hpv) edge (papillomavirus);
\path[brownlink,righttree] (papillomavirus) edge (papillomaviridae);
\path[brownlink,rightleaf] (bkvirus) edge (polyomavirus);
\path[brownlink,rightleaf] (jcvirus) edge (polyomavirus);
\path[brownlink,righttree] (polyomavirus) edge (polyomaviridae);
\path[brownlink,rightroot] (poxviridae) edge (dnadouble);
\path[brownlink,rightroot] (herpesviridae) edge (dnadouble);
\path[brownlink,rightroot] (adenoviridae) edge (dnadouble);
\path[brownlink,rightroot] (papillomaviridae) edge (dnadouble);
\path[brownlink,rightroot] (polyomaviridae) edge (dnadouble);

\node[redbox,minimum width=223.5pt] (parvoviridae) at (1954,1653) {パルボウイルス科(Parvoviridae)};
\node[redbox,minimum width=237pt] (erythrovirus) at (2203,1635) {エリスロウイルス属(Erythrovirus)};
\node[redbox,minimum width=259.6pt] (dependovirus) at (2203,1686) {ディペンドウイルス属(Dependovirus)};
\node[iconleafR,text width=258pt] (parvob) at (2507,1629) {パルボウイルス B19(Parvovirus B19)};
\node[leafR,text width=290pt] (adenoassoc) at (2495,1686) {アデノ随伴ウイルス(Adeno-associated virus)};

\path[olivelink,rightleaf] (parvob) edge (erythrovirus);
\path[olivelink,rightleaf] (adenoassoc) edge (dependovirus);
\path[olivelink,righttree] (erythrovirus) edge (parvoviridae);
\path[olivelink,righttree] (dependovirus) edge (parvoviridae);
\path[olivelink,rightroot] (parvoviridae) edge (dnasingle);

\node[redbox,minimum width=195pt] (reoviridae) at (1947,1813) {レオウイルス科(Reoviridae)};
\node[redbox,minimum width=260pt] (orthoreovirus) at (2168,1751) {オルソレオウイルス属(Orthoreovirus)};
\node[redbox,minimum width=188.5pt] (rotavirus) at (2168,1802.5) {ロタウイルス属(Rotavirus)};
\node[redbox,minimum width=200pt] (coltivirus) at (2168,1864.6) {コルチウイルス属(Coltivirus)};
\node[leafR,text width=172pt] (reoleaf) at (2460,1751) {レオウイルス(Reovirus)};
\node[iconleafR,text width=177.5pt] (rotaleaf) at (2422.5,1796.7) {ロタウイルス(Rotavirus)};
\node[leafR,text width=325.5pt] (colorado) at (2400.5,1853.4) {コロラドダニ熱ウイルス(Colorado tick fever virus)};

\path[greenlink,rightleaf] (reoleaf) edge (orthoreovirus);
\path[greenlink,rightleaf] (rotaleaf) edge (rotavirus);
\path[greenlink,rightleaf] (colorado) edge (coltivirus);
\path[greenlink,righttree] (orthoreovirus) edge (reoviridae);
\path[greenlink,righttree] (rotavirus) edge (reoviridae);
\path[greenlink,righttree] (coltivirus) edge (reoviridae);
\path[greenlink,rightroot] (reoviridae) edge (rnadouble);

\node[bluebox,minimum width=256pt] (hepadna) at (1992,1959.6) {ヘパドナウイルス科(Hepadonaviridae)};
\node[oval,minimum width=273pt,minimum height=44pt] (hepB) at (2411,1934) {\makebox[0pt]{B型肝炎ウイルス(Hepatitis B virus)\hspace{18pt}}};
\path[ovallink,rightoval] (hepB) edge (hepadna);
\path[teallink,rightroot] (hepadna) edge (dnaretro);

\node[note] (polioN) at (698,68.5) {糞口感染};
\node[note] (coxackieN) at (671,134) {糞口感染};
\node[note] (echoN) at (698,200) {糞口感染};
\node[note] (enteroleafN) at (703.6,266) {糞口感染};
\node[note] (rhinoleafN) at (740,332) {飛沫感染};
\node[note] (hepAN) at (705,407) {糞口感染, 経口感染};
\node[note] (norwalkN) at (728,473) {糞口感染};
\node[note] (sarsN) at (749,623) {飛沫感染};
\node[note] (eeevN) at (797,691) {zoonosis};
\node[note] (weevN) at (795,748) {zoonosis};
\node[note] (veevN) at (777,805) {zoonosis};
\node[note] (rubellaN) at (790,871) {経胎盤感染, 飛沫感染};
\node[note] (yellowfeverN) at (791.6,928) {zoonosis};
\node[note] (dengueN) at (774,985) {zoonosis};
\node[note] (westnileN) at (779.5,1042.5) {zoonosis};
\node[note] (japaneseN) at (747.6,1099) {zoonosis};
\node[note] (hepCN) at (742,1174) {医原性感染, 血液感染};
\node[note] (hepEN) at (948,1251) {接触感染, 糞口感染};
\node[note] (picornaN) at (1229,244.6) {ss-linear};
\node[note] (caliciN) at (1242,497.5) {ss-linear};
\node[note] (astroN) at (1236,566) {ss-linear};
\node[note] (coronaN) at (1240,634) {ss-linear};
\node[note] (togaN) at (1256,792) {ss-linear};
\node[note] (flaviN) at (1249.5,1062) {ss-linear};

\node[note] (hpivoneN) at (235,1338) {飛沫感染};
\node[note] (hpivthreeN) at (235,1394.5) {飛沫感染};
\node[note] (mumpsN) at (331,1460) {飛沫感染};
\node[note] (hpivtwoN) at (246,1517) {飛沫感染};
\node[note] (hpivfourN) at (249,1574) {飛沫感染};
\node[note] (measlesN) at (320.5,1640.6) {飛沫感染};
\node[note] (rsvirusN) at (326.5,1697) {飛沫感染};
\node[note] (rabiesN) at (729,1753) {zoonosis};
\node[note] (ebolaleafN) at (735,1822) {接触感染, 血液感染};
\node[note] (marburgleafN) at (589,1879) {接触感染, 血液感染};
\node[note] (infaN) at (858,1992) {zoonosis, 飛沫感染};
\node[note] (infbN) at (858,2049) {zoonosis, 飛沫感染};
\node[note] (infcN) at (858,2107) {飛沫感染};
\node[note] (lassaN) at (703.5,2164) {zoonosis};
\node[note] (hantaanN) at (710,2231) {zoonosis};
\node[note] (crimeanN) at (590.6,2289) {zoonosis, 接触感染, 血液感染};
\node[note] (paramyxoN) at (1168,1527) {ss-linear};
\node[note] (rhabdoN) at (1190.6,1765) {ss-linear};
\node[note] (filoN) at (1204,1861) {ss-linear};
\node[note] (bornaN) at (1196,1936) {ss-linear};
\node[note] (orthomyxoN) at (1159,2060) {ss-linear};
\node[note] (arenaN) at (1196,2174) {ss-linear};
\node[note] (bunyaN) at (1194.6,2271) {ss-linear};
\node[note] (hivN) at (419,2385) {医原性感染, 性感染, 経母乳, 経産道感染};
\node[note] (htlvN) at (285,2450) {医原性感染, 性感染, 経母乳};

\node[note] (variolaN) at (2639,676) {飛沫感染};
\node[note] (monkeypoxN) at (2634,733) {zoonosis};
\node[note] (molluscumN) at (2481,826) {接触感染};
\node[note] (poxN) at (2047,757) {ds-linear};
\node[note] (herpesN) at (2059,1116.5) {ds-linear};
\node[note] (hsvoneN) at (2947,892) {性感染, 接触感染, 経産道感染, 経胎盤感染, 飛沫感染};
\node[note] (hsvtwoN) at (2945.5,958.5) {性感染, 経産道感染, 経胎盤感染, 飛沫感染};
\node[note] (vzvN) at (2915,1024) {経胎盤感染, 飛沫感染};
\node[note] (cmvN) at (2999,1090) {経唾液, 経母乳, 経産道感染, 経胎盤感染, 飛沫感染};
\node[note] (hhvsixN) at (2917.6,1147) {経唾液, 飛沫感染};
\node[note] (hhvsevenN) at (2917.6,1204) {経唾液, 飛沫感染};
\node[note] (ebvN) at (2985.5,1270) {経唾液};
\node[note] (kshvN) at (2954.6,1327) {性感染};
\node[note] (hadenoN) at (2706,1393) {接触感染, 糞口感染, 飛沫感染};
\node[note] (adenoN) at (2054,1399) {ds-linear};
\node[note] (papillomaN) at (2081,1471.5) {ds-cicular};
\node[note] (hpvN) at (2765,1465) {接触感染};
\node[note] (polyomaN) at (2077,1546.6) {ds-cicular};
\node[note] (parvoN) at (2064.6,1664) {ss-linear};
\node[note] (parvobN) at (2615,1642) {経胎盤感染, 飛沫感染};
\node[note] (reoN) at (2043.5,1824) {ds-linear};
\node[note] (rotaleafN) at (2490,1807) {糞口感染};
\node[note] (coloradoN) at (2559,1864) {zoonosis};
\node[note] (hepadnaN) at (2120,1971) {ds-circular};
\node[note] (hepBN) at (2410,1969) {経産道感染, 血液感染};

\pic at (596,37) {staricon};
\pic at (630,37) {oniicon};
\pic at (539,103) {staricon};
\pic at (573,103) {oniicon};
\pic at (596,169) {halfstaricon};
\pic at (630,169) {oniicon};
\pic at (605,235) {oniicon};
\pic at (657,301) {halfstaricon};
\pic at (588,442) {staricon};
\pic at (877,441.5) {docicon};
\pic at (876,503) {docicon};
\pic at (855,596) {docicon};
\pic at (674,840) {staricon};
\pic at (708,840) {oniicon};
\pic at (915,840) {docicon};
\pic at (220,1429) {oniicon};
\pic at (453,1429) {docicon};
\pic at (212,1609) {staricon};
\pic at (246,1609) {oniicon};
\pic at (457,1670) {docicon};
\pic at (819,2205) {docicon};
\pic at (228,2354) {staricon};
\pic at (77.5,2419) {staricon};
\pic at (2541,645) {oniicon};
\pic at (2746,645) {docicon};
\pic at (2829,862) {staricon};
\pic at (3075,861) {docicon};
\pic at (2827,927) {staricon};
\pic at (3073,927) {docicon};
\pic at (2820,993) {staricon};
\pic at (2909,1059) {staricon};
\pic at (2920,1238) {staricon};
\pic at (3060,1238) {docicon};
\pic at (2578,1363) {staricon};
\pic at (2608,1434) {staricon};
\pic at (2486.6,1610.6) {staricon};
\pic at (2752.6,1610.6) {docicon};
\pic at (2619.6,1735.6) {docicon};
\pic at (2404,1777) {staricon};
\pic at (2588,1777) {docicon};
\pic at (2530.6,1934) {docicon};

\pic at ([xshift=-8pt]rnaplus.west) {foldmark};
\pic at ([xshift=-8pt]rnaminus.west) {foldmark};
\pic at ([xshift=-8pt]rnaretro.west) {foldmark};
\pic at ([xshift=8pt]dnadouble.east) {foldmark};
\pic at ([xshift=8pt]dnasingle.east) {foldmark};
\pic at ([xshift=8pt]rnadouble.east) {foldmark};
\pic at ([xshift=8pt]dnaretro.east) {foldmark};
\pic at ([xshift=-8pt]picorna.west) {foldmark};
\pic at ([xshift=-8pt]enterovirus.west) {foldmark};
\pic at ([xshift=-8pt]rhinovirus.west) {foldmark};
\pic at ([xshift=-8pt]hepatovirus.west) {foldmark};
\pic at ([xshift=-8pt]calici.west) {foldmark};
\pic at ([xshift=-8pt]norovirus.west) {foldmark};
\pic at ([xshift=-8pt]sapovirus.west) {foldmark};
\pic at ([xshift=-8pt]astro.west) {foldmark};
\pic at ([xshift=-8pt]mamastro.west) {foldmark};
\pic at ([xshift=-8pt]coronaviridae.west) {foldmark};
\pic at ([xshift=-8pt]coronavirus.west) {foldmark};
\pic at ([xshift=-8pt]toga.west) {foldmark};
\pic at ([xshift=-8pt]alphavirus.west) {foldmark};
\pic at ([xshift=-8pt]rubivirus.west) {foldmark};
\pic at ([xshift=-8pt]flaviviridae.west) {foldmark};
\pic at ([xshift=-8pt]flavivirus.west) {foldmark};
\pic at ([xshift=-8pt]hepacivirus.west) {foldmark};
\pic at ([xshift=-8pt]hepevirus.west) {foldmark};
\pic at ([xshift=-8pt]paramyxoviridae.west) {foldmark};
\pic at ([xshift=-8pt]paramyxovirinae.west) {foldmark};
\pic at ([xshift=-8pt]pneumovirinae.west) {foldmark};
\pic at ([xshift=-8pt]pneumovirus.west) {foldmark};
\pic at ([xshift=-8pt]respirovirus.west) {foldmark};
\pic at ([xshift=-8pt]rubulavirus.west) {foldmark};
\pic at ([xshift=-8pt]morbillivirus.west) {foldmark};
\pic at ([xshift=-8pt]rhabdoviridae.west) {foldmark};
\pic at ([xshift=-8pt]lyssavirus.west) {foldmark};
\pic at ([xshift=-8pt]filoviridae.west) {foldmark};
\pic at ([xshift=-8pt]ebolavirus.west) {foldmark};
\pic at ([xshift=-8pt]marburgvirus.west) {foldmark};
\pic at ([xshift=-8pt]bornaviridae.west) {foldmark};
\pic at ([xshift=-8pt]bornavirus.west) {foldmark};
\pic at ([xshift=-8pt]orthomyxo.west) {foldmark};
\pic at ([xshift=-8pt]arenaviridae.west) {foldmark};
\pic at ([xshift=-8pt]lcmgroup.west) {foldmark};
\pic at ([xshift=-8pt]bunyaviridae.west) {foldmark};
\pic at ([xshift=-8pt]hantavirus.west) {foldmark};
\pic at ([xshift=-8pt]nairovirus.west) {foldmark};
\pic at ([xshift=-8pt]retroviridae.west) {foldmark};
\pic at ([xshift=-8pt]lentivirinae.west) {foldmark};
\pic at ([xshift=-8pt]lentivirus.west) {foldmark};
\pic at ([xshift=-8pt]oncovirinae.west) {foldmark};
\pic at ([xshift=-8pt]typec.west) {foldmark};
\pic at ([xshift=8pt]poxviridae.east) {foldmark};
\pic at ([xshift=8pt]chordopox.east) {foldmark};
\pic at ([xshift=8pt]otherpox.east) {foldmark};
\pic at ([xshift=8pt]herpesviridae.east) {foldmark};
\pic at ([xshift=8pt]alphaherpes.east) {foldmark};
\pic at ([xshift=8pt]betaherpes.east) {foldmark};
\pic at ([xshift=8pt]gammaherpes.east) {foldmark};
\pic at ([xshift=8pt]simplexvirus.east) {foldmark};
\pic at ([xshift=8pt]varicellovirus.east) {foldmark};
\pic at ([xshift=8pt]cytomegalovirus.east) {foldmark};
\pic at ([xshift=8pt]roseolovirus.east) {foldmark};
\pic at ([xshift=8pt]lymphocrypto.east) {foldmark};
\pic at ([xshift=8pt]rhadinovirus.east) {foldmark};
\pic at ([xshift=8pt]adenoviridae.east) {foldmark};
\pic at ([xshift=8pt]mastadenovirus.east) {foldmark};
\pic at ([xshift=8pt]papillomaviridae.east) {foldmark};
\pic at ([xshift=8pt]papillomavirus.east) {foldmark};
\pic at ([xshift=8pt]polyomaviridae.east) {foldmark};
\pic at ([xshift=8pt]polyomavirus.east) {foldmark};
\pic at ([xshift=8pt]parvoviridae.east) {foldmark};
\pic at ([xshift=8pt]erythrovirus.east) {foldmark};
\pic at ([xshift=8pt]dependovirus.east) {foldmark};
\pic at ([xshift=8pt]reoviridae.east) {foldmark};
\pic at ([xshift=8pt]orthoreovirus.east) {foldmark};
\pic at ([xshift=8pt]rotavirus.east) {foldmark};
\pic at ([xshift=8pt]coltivirus.east) {foldmark};
\pic at ([xshift=8pt]hepadna.east) {foldmark};
\end{tikzpicture}
\end{document}
